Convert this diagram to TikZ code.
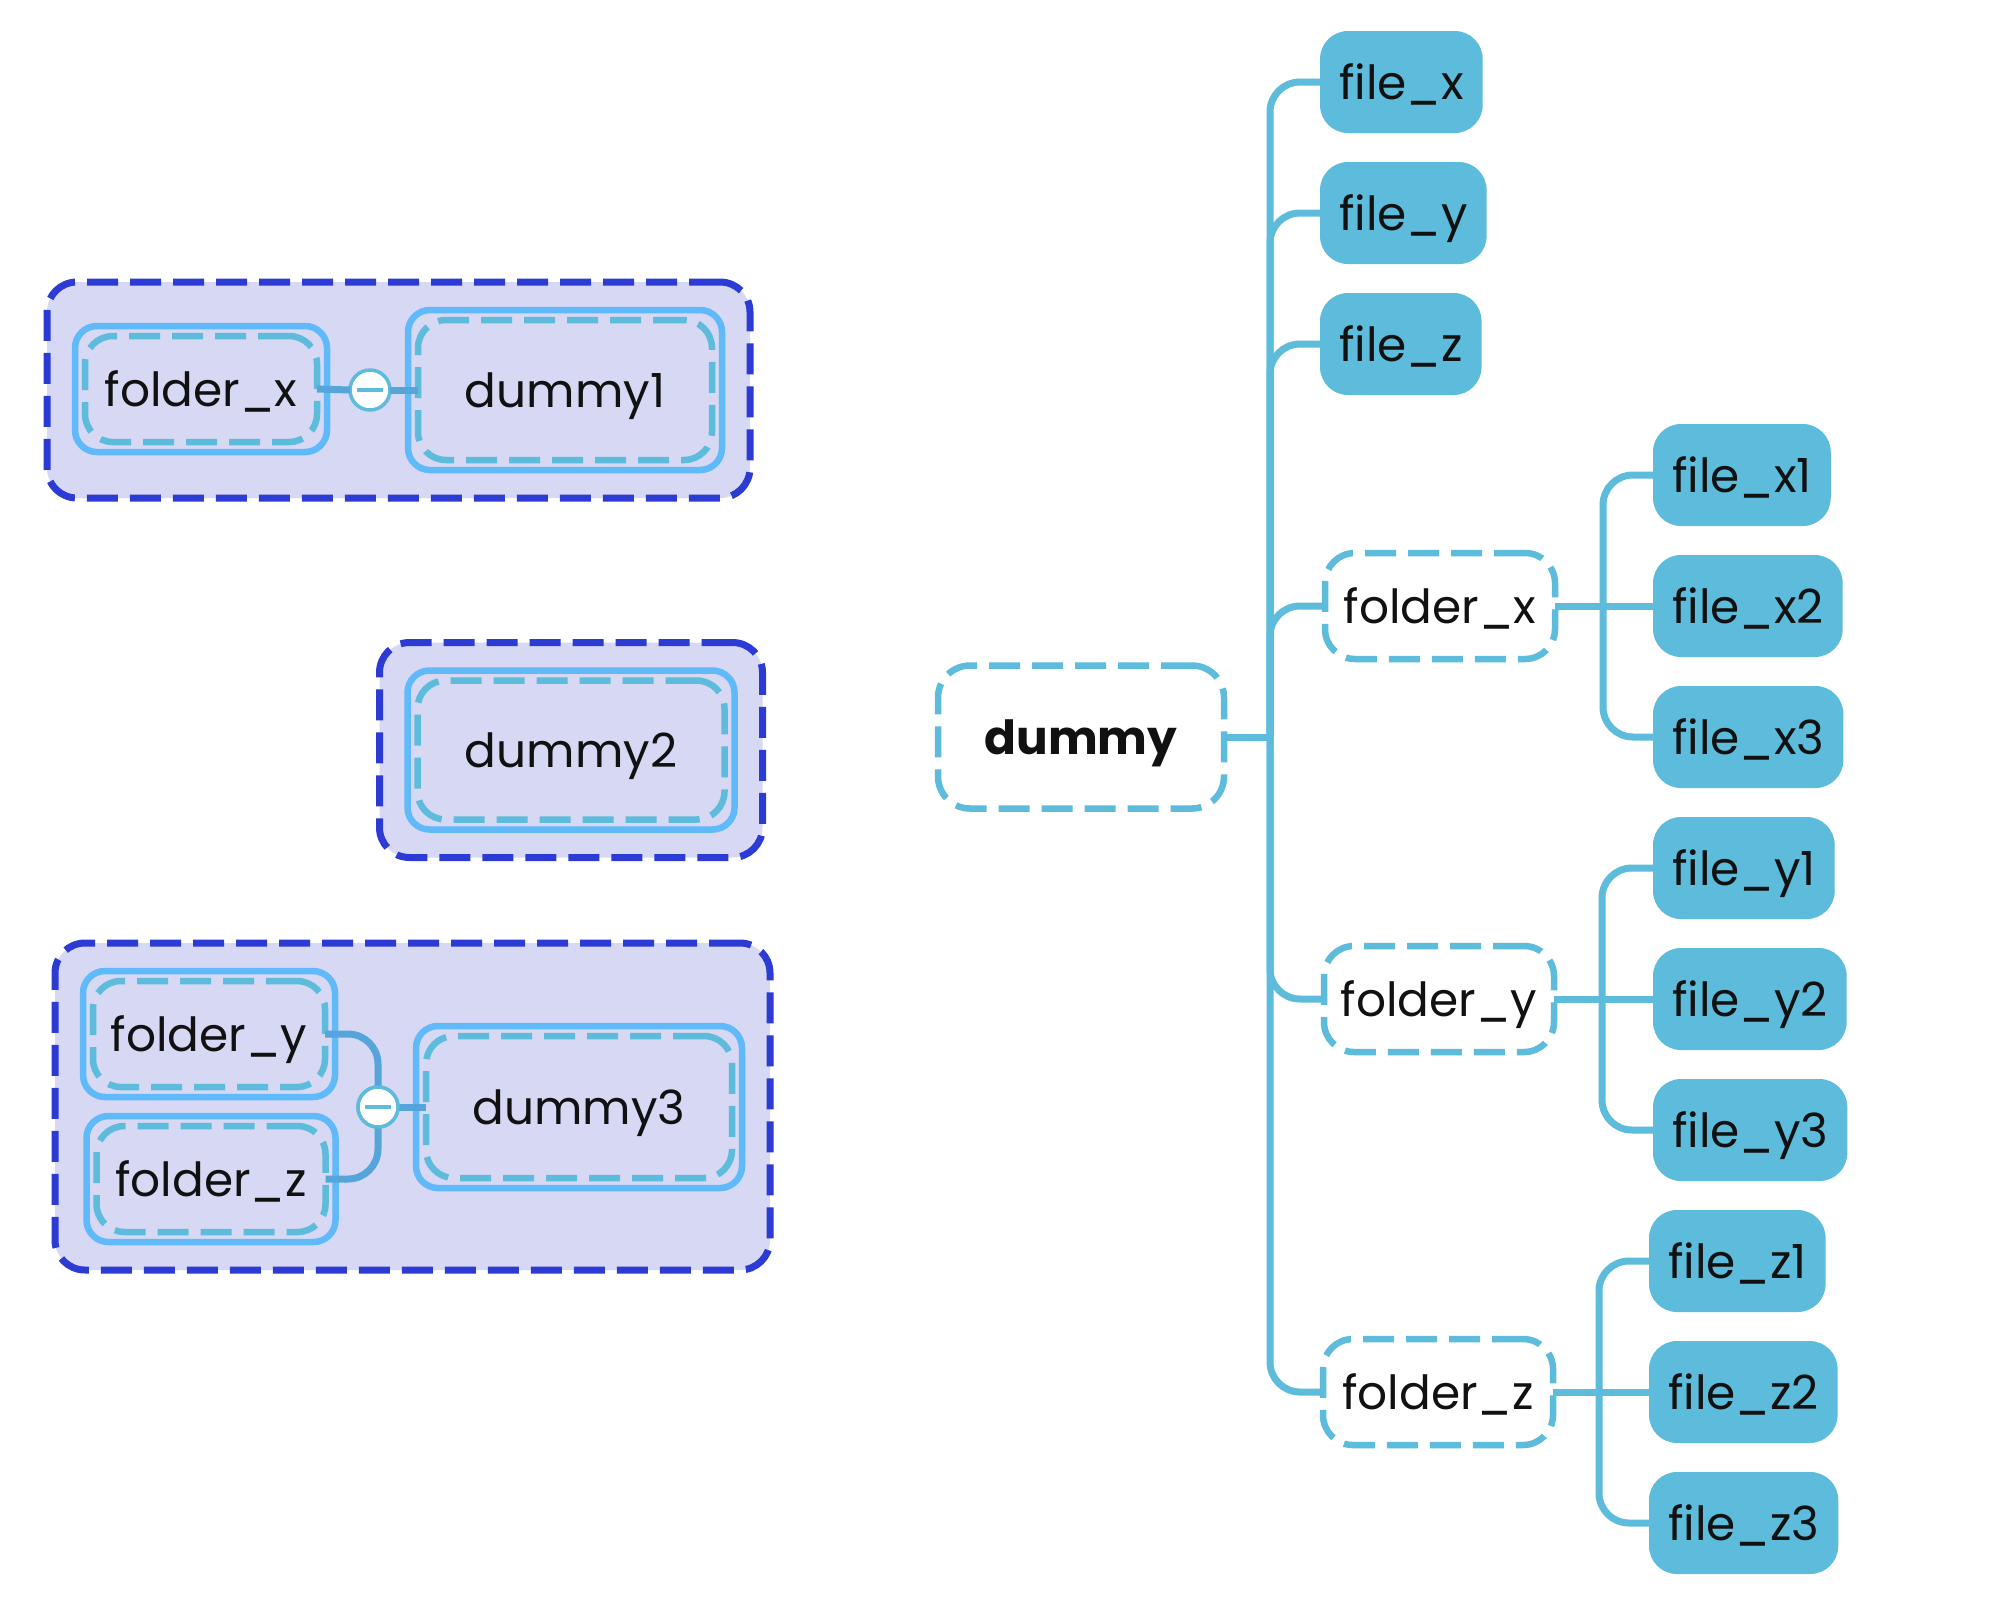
\documentclass[tikz,border=0pt]{standalone}
\usepackage{fontspec}
\setmainfont{Poppins}
\usetikzlibrary{fit,backgrounds}
\definecolor{cyanl}{HTML}{5DBBDB}
\definecolor{solidb}{HTML}{60B9F8}
\definecolor{darkb}{HTML}{2B3BD4}
\definecolor{lav}{HTML}{D6D8F4}
\definecolor{connb}{HTML}{55A4DA}
\definecolor{txt}{HTML}{111111}
\begin{document}
\begin{tikzpicture}[x=1pt,y=-1pt,
  every node/.style={outer sep=0pt, text=txt, font=\fontsize{47}{56}\selectfont},
  lbl/.style={text height=36pt, text depth=2pt},
  dashpat/.style={dash pattern=on 31pt off 12pt},
  filebox/.style={lbl, fill=cyanl, rounded corners=28pt, minimum height=102pt, inner xsep=19pt, anchor=west},
  folderbox/.style={lbl, draw=cyanl, line width=6.5pt, dashpat, fill=white, rounded corners=30pt, minimum height=106pt, minimum width=230pt},
  rootbox/.style={lbl, draw=cyanl, line width=6.5pt, dashpat, fill=white, rounded corners=32pt, minimum height=143pt, minimum width=286pt},
  conn/.style={draw=cyanl, line width=7pt},
  innerbox/.style={lbl, draw=cyanl, line width=6.5pt, dashpat, rounded corners=28pt},
  solidbox/.style={draw=solidb, line width=6.5pt, rounded corners=22pt, inner sep=10pt, fit=#1},
  groupbox/.style={draw=darkb, fill=lav, line width=7pt, dashpat, rounded corners=30pt, inner sep=28pt, fit=#1},
  minusc/.style={circle, draw=cyanl, fill=white, line width=3.5pt, minimum size=40pt, inner sep=0pt},
  lconn/.style={draw=connb, line width=7pt}
]
\path[use as bounding box] (0,0) rectangle (2008,1610);

% ---------- right tree ----------
\node[rootbox] (root) at (1081,737) {\bfseries dummy};

\node[filebox] (fx) at (1320,82) {file\_x};
\node[filebox] (fy) at (1320,213) {file\_y};
\node[filebox] (fz) at (1320,344) {file\_z};
\node[folderbox] (dx) at (1440,606) {folder\_x};
\node[folderbox] (dy) at (1439,999) {folder\_y};
\node[folderbox] (dz) at (1438,1392) {folder\_z};

\node[filebox] (x1) at (1653,475) {file\_x1};
\node[filebox] (x2) at (1653,606) {file\_x2};
\node[filebox] (x3) at (1653,737) {file\_x3};
\node[filebox] (y1) at (1653,868) {file\_y1};
\node[filebox] (y2) at (1653,999) {file\_y2};
\node[filebox] (y3) at (1653,1130) {file\_y3};
\node[filebox] (z1) at (1649,1261) {file\_z1};
\node[filebox] (z2) at (1649,1392) {file\_z2};
\node[filebox] (z3) at (1649,1523) {file\_z3};

\coordinate (rj) at (1270,737);
\coordinate (xj) at (1603,606);
\coordinate (yj) at (1602,999);
\coordinate (zj) at (1599,1392);

\draw[conn] (root.east) -- (rj);
\foreach \c in {fx,fy,fz,dx,dy,dz}
  \draw[conn, rounded corners=30pt] (rj) |- (\c.west);

\draw[conn] (dx.east) -- (x2.west);
\draw[conn, rounded corners=30pt] (xj) |- (x1.west);
\draw[conn, rounded corners=30pt] (xj) |- (x3.west);

\draw[conn] (dy.east) -- (y2.west);
\draw[conn, rounded corners=30pt] (yj) |- (y1.west);
\draw[conn, rounded corners=30pt] (yj) |- (y3.west);

\draw[conn] (dz.east) -- (z2.west);
\draw[conn, rounded corners=30pt] (zj) |- (z1.west);
\draw[conn, rounded corners=30pt] (zj) |- (z3.west);

% ---------- left group 1 ----------
\node[innerbox, minimum width=232pt, minimum height=106pt] (afx) at (201,389) {folder\_x};
\node[innerbox, minimum width=294pt, minimum height=140pt] (ad1) at (565,390) {dummy1};
\node[solidbox=(afx)] (safx) {};
\node[solidbox=(ad1)] (sad1) {};
\node[minusc] (c1) at (370,390) {};
\draw[lconn] (afx.east) -- (c1.west);
\draw[lconn] (c1.east) -- (ad1.west);
\draw[cyanl, line width=4pt] ([xshift=-13pt]c1.center) -- ([xshift=13pt]c1.center);

% ---------- left group 2 ----------
\node[innerbox, minimum width=307pt, minimum height=139pt] (bd2) at (571,750) {dummy2};
\node[solidbox=(bd2)] (sbd2) {};

% ---------- left group 3 ----------
\node[innerbox, minimum width=232pt, minimum height=106pt] (cfy) at (209,1034) {folder\_y};
\node[innerbox, minimum width=229pt, minimum height=106pt] (cfz) at (211,1179) {folder\_z};
\node[innerbox, minimum width=306pt, minimum height=142pt] (cd3) at (579,1107) {dummy3};
\node[solidbox=(cfy)] (scfy) {};
\node[solidbox=(cfz)] (scfz) {};
\node[solidbox=(cd3)] (scd3) {};
\node[minusc] (c3) at (378,1107) {};
\draw[lconn, rounded corners=30pt] (cfy.east) -| (c3.north);
\draw[lconn, rounded corners=30pt] (cfz.east) -| (c3.south);
\draw[lconn] (c3.east) -- (cd3.west);
\node[minusc] at (c3) {};
\draw[cyanl, line width=4pt] ([xshift=-13pt]c3.center) -- ([xshift=13pt]c3.center);

% ---------- background and group boxes ----------
\begin{scope}[on background layer]
  \fill[white] (0,0) rectangle (2008,1610);
  \node[groupbox=(safx)(sad1)] (g1) {};
  \node[groupbox=(sbd2)] (g2) {};
  \node[groupbox=(scfy)(scfz)(scd3)] (g3) {};
\end{scope}
\end{tikzpicture}
\end{document}
